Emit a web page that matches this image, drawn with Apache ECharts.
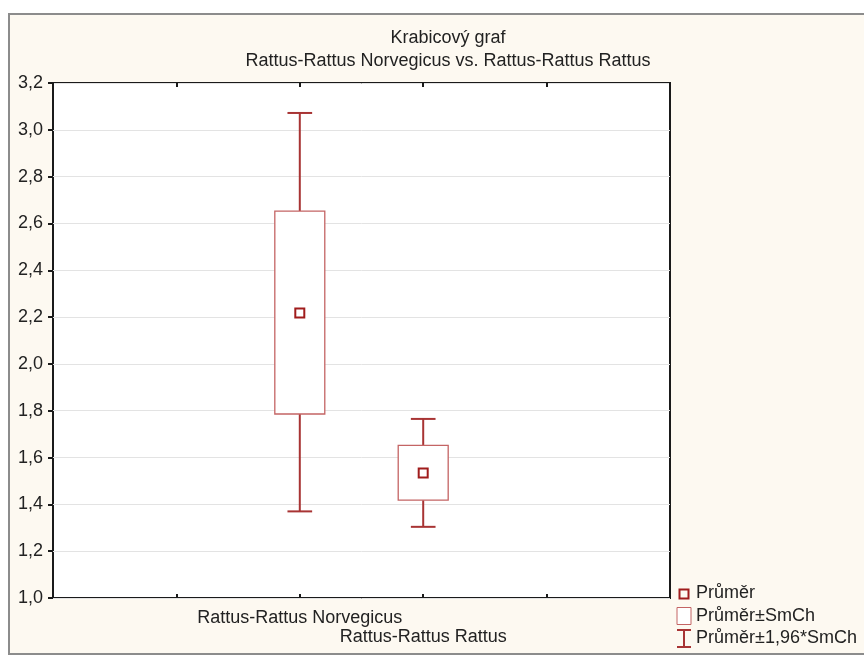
<!DOCTYPE html>
<html>
<head>
<meta charset="utf-8">
<script src="https://cdn.jsdelivr.net/npm/echarts@6/dist/echarts.min.js"></script>
<style>
html,body{margin:0;padding:0;background:#fff;}
#c{width:864px;height:656px;}
</style>
</head>
<body>
<div id="c"></div>
<script>
const titleLines = ['Krabicový graf', 'Rattus-Rattus Norvegicus vs. Rattus-Rattus Rattus'];
const categories = ['Rattus-Rattus Norvegicus', 'Rattus-Rattus Rattus'];
const means = [2.217, 1.534];
const boxLow = [1.786, 1.418];
const boxHigh = [2.653, 1.652];
const whiskerLow = [1.370, 1.304];
const whiskerHigh = [3.072, 1.765];
const legendNames = ['Průměr', 'Průměr±SmCh', 'Průměr±1,96*SmCh'];

const FONT = '"Liberation Sans", Arial, sans-serif';
const TEXT = '#222';
const WHISKER = '#a83434';
const BOX = '#c46464';
const MEAN = '#a01c1c';
const X_OFFSET = 2; // first category sits on the 2nd inner tick of a 0..5 axis

const chart = echarts.init(document.getElementById('c'), null, {renderer: 'canvas'});

const whiskerData = categories.map((c, i) => [i + X_OFFSET, whiskerLow[i], whiskerHigh[i]]);
const boxData = categories.map((c, i) => [i + X_OFFSET, boxLow[i], boxHigh[i]]);
const meanData = categories.map((c, i) => [i + X_OFFSET, means[i]]);

const option = {
  backgroundColor: '#ffffff',
  animation: false,
  graphic: [{
    type: 'rect', z: -10, silent: true,
    shape: {x: 9, y: 14, width: 900, height: 640},
    style: {fill: '#fdf9f1', stroke: '#8c8c8c', lineWidth: 2}
  }],
  title: {
    text: titleLines.join('\n'),
    left: 443, top: 22, textAlign: 'center',
    textStyle: {fontFamily: FONT, fontSize: 18, fontWeight: 'normal', color: TEXT, lineHeight: 23}
  },
  grid: {
    left: 53, right: 194, top: 83, bottom: 58,
    show: true, backgroundColor: '#ffffff', borderColor: '#1a1a1a', borderWidth: 2
  },
  legend: {
    orient: 'vertical', left: 676, top: 584, padding: 0,
    itemWidth: 14, itemHeight: 17, itemGap: 4,
    selectedMode: false,
    textStyle: {fontFamily: FONT, fontSize: 18, color: TEXT},
    data: [
      {name: legendNames[0], icon: 'path://M0,0M14,17M2.5,4.5H11.5V13.5H2.5Z',
       itemStyle: {color: 'transparent', borderColor: MEAN, borderWidth: 2}},
      {name: legendNames[1], icon: 'path://M0,0H14V17H0Z',
       itemStyle: {color: '#ffffff', borderColor: BOX, borderWidth: 1}},
      {name: legendNames[2], icon: 'path://M0,0H14M7,0V17M0,17H14',
       itemStyle: {color: 'transparent', borderColor: WHISKER, borderWidth: 2}}
    ]
  },
  xAxis: [{
    type: 'value', min: 0, max: 5, interval: 1, position: 'bottom',
    axisLine: {show: false},
    axisTick: {show: true, inside: true, length: 4, lineStyle: {color: '#1a1a1a', width: 2}},
    splitLine: {show: false},
    axisLabel: {
      margin: 11, fontFamily: FONT, fontSize: 18, color: TEXT, lineHeight: 19,
      showMinLabel: true, showMaxLabel: true,
      formatter: v => {
        const i = Math.round(v) - X_OFFSET;
        if (i < 0 || i >= categories.length) return '';
        return (i % 2 === 1 ? '\n' : '') + categories[i];
      }
    }
  }, {
    type: 'value', min: 0, max: 5, interval: 1, position: 'top',
    axisLine: {show: false},
    axisTick: {show: true, inside: true, length: 4, lineStyle: {color: '#1a1a1a', width: 2}},
    splitLine: {show: false},
    axisLabel: {show: false}
  }],
  yAxis: [{
    type: 'value', min: 1.0, max: 3.2, interval: 0.2, position: 'left',
    axisLine: {show: false},
    axisTick: {show: true, inside: false, length: 5, lineStyle: {color: '#1a1a1a', width: 2}},
    splitLine: {show: true, lineStyle: {color: '#e3e3e3', width: 1}},
    axisLabel: {
      margin: 10, fontFamily: FONT, fontSize: 18, color: TEXT,
      formatter: v => v.toFixed(1).replace('.', ',')
    }
  }, {
    type: 'value', min: 1.0, max: 3.2, interval: 0.2, position: 'right',
    axisLine: {show: false},
    axisTick: {show: true, inside: true, length: 3, lineStyle: {color: '#1a1a1a', width: 2}},
    splitLine: {show: false},
    axisLabel: {show: false}
  }],
  series: [{
    name: legendNames[2], type: 'custom', z: 2,
    itemStyle: {color: WHISKER},
    encode: {x: 0, y: [1, 2]},
    data: whiskerData,
    renderItem: (params, api) => {
      const x = api.value(0);
      const lo = api.coord([x, api.value(1)]);
      const hi = api.coord([x, api.value(2)]);
      const half = api.size([0.2, 0])[0] / 2;
      const st = {stroke: WHISKER, lineWidth: 2, fill: null};
      return {type: 'group', children: [
        {type: 'line', shape: {x1: lo[0], y1: lo[1], x2: hi[0], y2: hi[1]}, style: st},
        {type: 'line', shape: {x1: lo[0] - half, y1: lo[1], x2: lo[0] + half, y2: lo[1]}, style: st},
        {type: 'line', shape: {x1: hi[0] - half, y1: hi[1], x2: hi[0] + half, y2: hi[1]}, style: st}
      ]};
    }
  }, {
    name: legendNames[1], type: 'custom', z: 3,
    itemStyle: {color: BOX},
    encode: {x: 0, y: [1, 2]},
    data: boxData,
    renderItem: (params, api) => {
      const x = api.value(0);
      const lo = api.coord([x, api.value(1)]);
      const hi = api.coord([x, api.value(2)]);
      const w = api.size([0.405, 0])[0];
      return {type: 'rect',
        shape: {x: lo[0] - w / 2, y: hi[1], width: w, height: lo[1] - hi[1]},
        style: {fill: '#ffffff', stroke: BOX, lineWidth: 1.3}};
    }
  }, {
    name: legendNames[0], type: 'custom', z: 4,
    itemStyle: {color: MEAN},
    encode: {x: 0, y: 1},
    data: meanData,
    renderItem: (params, api) => {
      const p = api.coord([api.value(0), api.value(1)]);
      return {type: 'rect',
        shape: {x: p[0] - 4.5, y: p[1] - 4.5, width: 9, height: 9},
        style: {fill: 'transparent', stroke: MEAN, lineWidth: 2}};
    }
  }]
};
chart.setOption(option);
</script>
</body>
</html>
